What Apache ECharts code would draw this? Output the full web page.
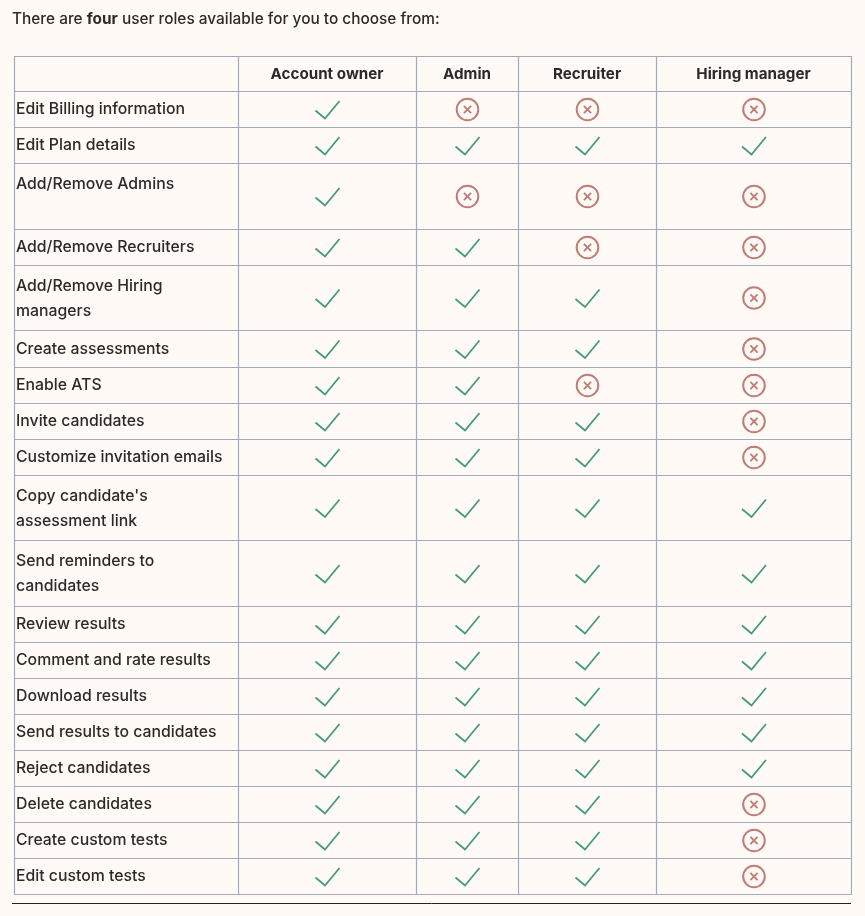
<!DOCTYPE html>
<html>
<head>
<meta charset="utf-8">
<style>
html,body{margin:0;padding:0;background:#fffaf6;}
#main{width:865px;height:916px;}
</style>
<script src="https://cdn.jsdelivr.net/npm/echarts@6/dist/echarts.min.js"></script>
</head>
<body>
<div id="main"></div>
<script>
// table content
var roles=['Account owner','Admin','Recruiter','Hiring manager'];
var permissions=[
    'Edit Billing information',
    'Edit Plan details',
    'Add/Remove Admins',
    'Add/Remove Recruiters',
    'Add/Remove Hiring\nmanagers',
    'Create assessments',
    'Enable ATS',
    'Invite candidates',
    'Customize invitation emails',
    "Copy candidate's\nassessment link",
    'Send reminders to\ncandidates',
    'Review results',
    'Comment and rate results',
    'Download results',
    'Send results to candidates',
    'Reject candidates',
    'Delete candidates',
    'Create custom tests',
    'Edit custom tests'
];
// 1 = allowed, 0 = not allowed, same order as permissions
var accountOwner=[1,1,1,1,1,1,1,1,1,1,1,1,1,1,1,1,1,1,1];
var admin=       [0,1,0,1,1,1,1,1,1,1,1,1,1,1,1,1,1,1,1];
var recruiter=   [0,1,0,0,1,1,0,1,1,1,1,1,1,1,1,1,1,1,1];
var hiringManager=[0,1,0,0,0,0,0,0,0,1,1,1,1,1,1,1,0,0,0];

// layout of the table, in axis units (axes run over the whole page)
var colEdges=[14,238,416,518,656,851];
var rowEdges=[56,91,127,163,229,265,330,367,403,439,475,540,606,642,678,714,750,786,822,858,894];

var lineColor='#a0abbe';
var textColor='#2b2a29';
var okColor='#439b7f';
var noColor='#c07c76';
var fontName='Inter';

var roleValues=[accountOwner,admin,recruiter,hiringManager];
var markData=[];
roleValues.forEach(function(values,col){
    values.forEach(function(v,row){
        markData.push([col,row,v]);
    });
});
var labelData=permissions.map(function(name,row){return [row,name];});
var headerData=roles.map(function(name,col){return [col,name];});

function colCenter(col){return (colEdges[col+1]+colEdges[col+2])/2;}
function rowCenter(row){return (rowEdges[row+1]+rowEdges[row+2])/2;}

function renderRules(params,api){
    var children=[];
    var style={stroke:lineColor,lineWidth:1.2,fill:null};
    rowEdges.forEach(function(y){
        var a=api.coord([colEdges[0],y]),b=api.coord([colEdges[colEdges.length-1],y]);
        children.push({type:'line',shape:{x1:a[0],y1:a[1]+0.5,x2:b[0]+1,y2:b[1]+0.5},style:style});
    });
    colEdges.forEach(function(x){
        var a=api.coord([x,rowEdges[0]]),b=api.coord([x,rowEdges[rowEdges.length-1]]);
        children.push({type:'line',shape:{x1:a[0]+0.5,y1:a[1],x2:b[0]+0.5,y2:b[1]+1},style:style});
    });
    return {type:'group',children:children};
}

function renderMark(params,api){
    var p=api.coord([colCenter(api.value(0)),rowCenter(api.value(1))]);
    var x=p[0]+0.5,y=p[1]+0.5;
    if(api.value(2)===1){
        return {type:'polyline',shape:{points:[[x-12,y+1],[x-2.5,y+9],[x+12,y-8.5]]},
            style:{stroke:okColor,lineWidth:1.8,fill:null}};
    }
    return {type:'group',children:[
        {type:'circle',shape:{cx:x,cy:y,r:10.8},style:{stroke:noColor,lineWidth:2,fill:null}},
        {type:'line',shape:{x1:x-3.6,y1:y-3.6,x2:x+3.6,y2:y+3.6},style:{stroke:noColor,lineWidth:1.9}},
        {type:'line',shape:{x1:x+3.6,y1:y-3.6,x2:x-3.6,y2:y+3.6},style:{stroke:noColor,lineWidth:1.9}}
    ]};
}

function renderLabel(params,api){
    var row=api.value(0);
    var top=rowEdges[row+1],h=rowEdges[row+2]-top;
    // tall rows keep their text at the top of the cell
    var y=h<40?top+h/2+0.5:top+9;
    var p=api.coord([colEdges[0]+2,y]);
    return {type:'text',style:{x:p[0],y:p[1],text:permissions[row],fill:textColor,
        font:'500 15.8px '+fontName,lineHeight:24.5,
        align:'left',verticalAlign:h<40?'middle':'top'}};
}

function renderHeader(params,api){
    var col=api.value(0);
    var p=api.coord([colCenter(col),(rowEdges[0]+rowEdges[1])/2+0.5]);
    return {type:'text',style:{x:p[0],y:p[1],text:roles[col],fill:textColor,
        font:'700 15.2px '+fontName,align:'center',verticalAlign:'middle'}};
}

function renderFooter(params,api){
    var a=api.coord([12,903]),b=api.coord([851,903]);
    return {type:'line',shape:{x1:a[0],y1:a[1]+0.5,x2:b[0],y2:b[1]+0.5},style:{stroke:'#222222',lineWidth:1}};
}

var option={
    animation:false,
    backgroundColor:'#fffaf6',
    title:{
        left:12,top:12,padding:0,
        text:'{a|There are }{b|four}{a| user roles available for you to choose from:}',
        textStyle:{rich:{
            a:{fontFamily:fontName,fontSize:15.4,fontWeight:500,color:textColor},
            b:{fontFamily:fontName,fontSize:15.4,fontWeight:700,color:textColor}
        }}
    },
    grid:{left:0,right:0,top:0,bottom:0},
    xAxis:{type:'value',min:0,max:865,show:false},
    yAxis:{type:'value',min:0,max:916,inverse:true,show:false},
    series:[
        {type:'custom',silent:true,data:[[0]],renderItem:renderRules},
        {type:'custom',silent:true,data:[[0]],renderItem:renderFooter},
        {type:'custom',silent:true,data:headerData,renderItem:renderHeader},
        {type:'custom',silent:true,data:labelData,renderItem:renderLabel},
        {type:'custom',silent:true,data:markData,renderItem:renderMark}
    ]
};
var myChart=echarts.init(document.getElementById('main'));
myChart.setOption(option);
</script>
</body>
</html>
